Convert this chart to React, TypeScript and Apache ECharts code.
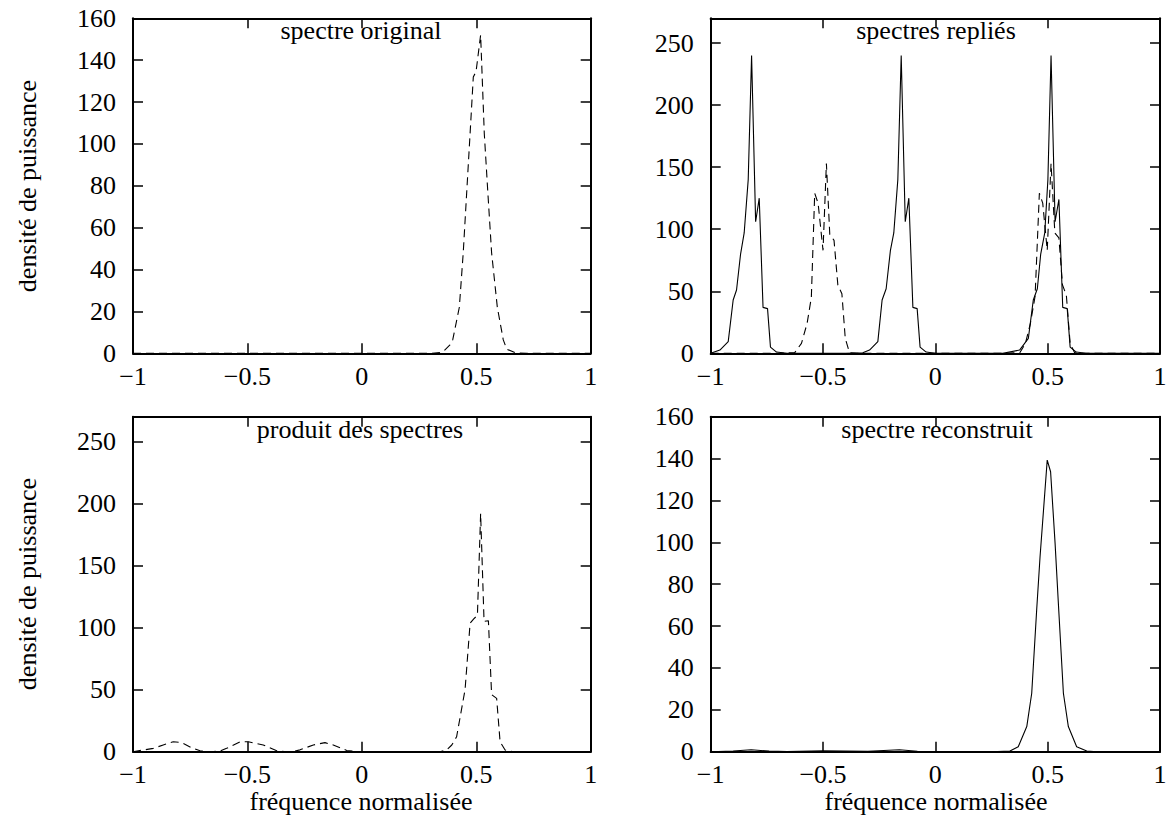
import React, { useEffect, useRef } from "react";
import * as echarts from "echarts";

// ---- data ----
const xTicks = [-1, -0.5, 0, 0.5, 1];
const panelTitles = ["spectre original", "spectres repliés", "produit des spectres", "spectre reconstruit"];
const yMaxes = [160, 270, 270, 160];
const yIntervals = [20, 50, 50, 20];

// panel 1: original spectrum (dashed)
const origX = [-1, 0.3, 0.341, 0.362, 0.385, 0.397, 0.426, 0.443, 0.473, 0.487, 0.499, 0.519, 0.535, 0.551, 0.567, 0.592, 0.618, 0.633, 0.669, 0.72, 1];
const origY = [0, 0, 0.3, 1.5, 4, 6.4, 22, 48, 105, 132, 134.5, 152, 105, 76, 48, 22, 6.4, 2, 0.3, 0, 0];

// panel 2: folded spectra (solid)
const replSolidX = [
  -1, -0.959, -0.922, -0.9, -0.885, -0.867, -0.851, -0.833, -0.818, -0.8, -0.784, -0.767, -0.747, -0.734, -0.707, -0.66,
  -0.4, -0.323, -0.293, -0.256, -0.237, -0.219, -0.2, -0.185, -0.167, -0.152, -0.134, -0.118, -0.1, -0.081, -0.068, -0.041, 0,
  0.3, 0.375, 0.414, 0.436, 0.454, 0.469, 0.487, 0.501, 0.515, 0.533, 0.55, 0.567, 0.587, 0.6, 0.627, 0.67, 1,
];
const replSolidY = [
  0, 2.6, 9.4, 43, 51, 80, 97, 140, 240, 106, 125, 37, 36, 5, 1, 0,
  0, 0.5, 2.6, 9.4, 43, 52, 83, 97, 140, 240, 106, 125, 37, 36, 5, 1, 0,
  0, 2.6, 12, 43, 52, 80, 97, 140, 240, 106, 124, 37, 36, 5, 1, 0, 0,
];
// panel 2: folded spectra (dashed)
const replDashX = [
  -1, -0.7, -0.626, -0.596, -0.571, -0.552, -0.537, -0.522, -0.5, -0.485, -0.47, -0.451, -0.434, -0.416, -0.401, -0.382, -0.35,
  0.3, 0.376, 0.401, 0.423, 0.444, 0.463, 0.478, 0.498, 0.515, 0.532, 0.55, 0.566, 0.583, 0.6, 0.62, 0.65, 1,
];
const replDashY = [
  0, 0, 0.5, 8, 24, 45, 129, 121, 83, 153, 96, 91, 55, 48, 12, 0.5, 0,
  0, 0.5, 8, 24, 46, 129, 121, 83, 153, 97, 93, 55, 47, 8, 0.5, 0, 0,
];

// panel 3: product of spectra (dashed)
const prodX = [
  -1, -0.911, -0.868, -0.824, -0.787, -0.744, -0.707, -0.66, -0.62, -0.591, -0.532, -0.496, -0.431, -0.372, -0.33, -0.3,
  -0.27, -0.212, -0.161, -0.125, -0.066, -0.008, 0.342, 0.371, 0.393, 0.414, 0.451, 0.473, 0.489, 0.505, 0.519, 0.534,
  0.553, 0.567, 0.589, 0.604, 0.626, 0.662, 1,
];
const prodY = [
  0, 2.7, 5.4, 8, 7.3, 3.2, 0.7, 0, 0.5, 2.7, 8, 8, 5.4, 0.7, 0, 0.3,
  1.5, 5.4, 7.3, 5.4, 1, 0, 0, 1.4, 5.4, 12, 50, 103.5, 107, 110, 192, 105,
  105.5, 46, 43, 8, 1.4, 0, 0,
];

// panel 4: reconstructed spectrum (solid)
const reconX = [
  -1, -0.9, -0.82, -0.74, -0.66, -0.5, -0.3, -0.16, -0.08, 0, 0.25, 0.332, 0.369, 0.407, 0.429, 0.451, 0.466, 0.498, 0.513,
  0.533, 0.547, 0.57, 0.592, 0.629, 0.674, 0.72, 1,
];
const reconY = [
  0, 0.3, 0.9, 0.3, 0.1, 0.4, 0.2, 0.9, 0.2, 0, 0, 0.3, 2.4, 12, 27.9, 67.7, 93, 139.3, 133.7,
  99.5, 72, 27.9, 12, 2.4, 0.3, 0, 0,
];

const FONT = '"Liberation Serif", "Times New Roman", serif';
const FS = 26;

const pairs = (xs: number[], ys: number[]) => xs.map((x, i) => [x, ys[i]]);
const fmtX = (v: number) => (v < 0 ? "\u2212" + String(-v) : String(v));

export default function App() {
  const ref = useRef<HTMLDivElement>(null);
  useEffect(() => {
    if (!ref.current) return;
    const chart = echarts.init(ref.current, undefined, { renderer: "svg" });

    const grids = [
      { left: 133, top: 18.3, width: 457.7, height: 335 },
      { left: 710.7, top: 18.3, width: 449.3, height: 335 },
      { left: 133, top: 416.7, width: 457.7, height: 335 },
      { left: 710.7, top: 416.7, width: 449.3, height: 335 },
    ];

    const xAxes: any[] = [];
    const yAxes: any[] = [];
    grids.forEach((_, i) => {
      const common = {
        gridIndex: i,
        type: "value",
        axisLine: { show: true, onZero: false, lineStyle: { color: "#000", width: 2 } },
        axisTick: { show: true, inside: true, length: 10, lineStyle: { color: "#000", width: 1.5 } },
        splitLine: { show: false },
      };
      xAxes.push({
        ...common,
        position: "bottom",
        min: -1,
        max: 1,
        interval: 0.5,
        axisLabel: { show: true, color: "#000", fontFamily: FONT, fontSize: FS, margin: 10, formatter: fmtX },
      });
      xAxes.push({ ...common, position: "top", min: -1, max: 1, interval: 0.5, axisLabel: { show: false } });
      const ymax = yMaxes[i];
      const yint = yIntervals[i];
      yAxes.push({
        ...common,
        position: "left",
        min: 0,
        max: ymax,
        interval: yint,
        axisLabel: {
          show: true,
          color: "#000",
          fontFamily: FONT,
          fontSize: FS,
          margin: 17,
          formatter: (v: number) => (v % yint === 0 ? String(v) : ""),
        },
      });
      yAxes.push({ ...common, position: "right", min: 0, max: ymax, interval: yint, axisLabel: { show: false } });
    });

    const dashed = [8, 5];
    const mk = (i: number, data: number[][], dash: boolean) => ({
      type: "line",
      xAxisIndex: 2 * i,
      yAxisIndex: 2 * i,
      data,
      symbol: "none",
      showSymbol: false,
      lineStyle: { color: "#000", width: 1.1, type: dash ? dashed : "solid" },
      silent: true,
    });

    const series = [
      mk(0, pairs(origX, origY), true),
      mk(1, pairs(replSolidX, replSolidY), false),
      mk(1, pairs(replDashX, replDashY), true),
      mk(2, pairs(prodX, prodY), true),
      mk(3, pairs(reconX, reconY), false),
    ];

    const titleCenters = [
      [361, 30],
      [936, 30],
      [360, 429],
      [937, 429],
    ];
    const textStyle = (text: string, x: number, y: number) => ({
      text,
      x,
      y,
      fill: "#000",
      font: `${FS}px ${FONT}`,
      textAlign: "center",
      textVerticalAlign: "middle",
    });

    const graphic: any[] = [];
    panelTitles.forEach((t, i) => {
      graphic.push({ type: "text", style: textStyle(t, titleCenters[i][0], titleCenters[i][1]), z: 10 });
    });
    // y axis titles
    [186, 584].forEach((cy) => {
      graphic.push({
        type: "text",
        x: 27,
        y: cy,
        rotation: Math.PI / 2,
        style: textStyle("densité de puissance", 0, 0),
      });
    });
    // x axis titles
    [361, 936].forEach((cx) => {
      graphic.push({ type: "text", style: textStyle("fréquence normalisée", cx, 801) });
    });

    chart.setOption({
      animation: false,
      backgroundColor: "#fff",
      grid: grids.map((g) => ({ ...g, show: false })),
      xAxis: xAxes,
      yAxis: yAxes,
      series,
      graphic,
    });
    return () => chart.dispose();
  }, []);

  return (
    <div
      ref={ref}
      style={{ position: "fixed", left: 0, top: 0, width: 1170, height: 837, background: "#fff" }}
    />
  );
}
